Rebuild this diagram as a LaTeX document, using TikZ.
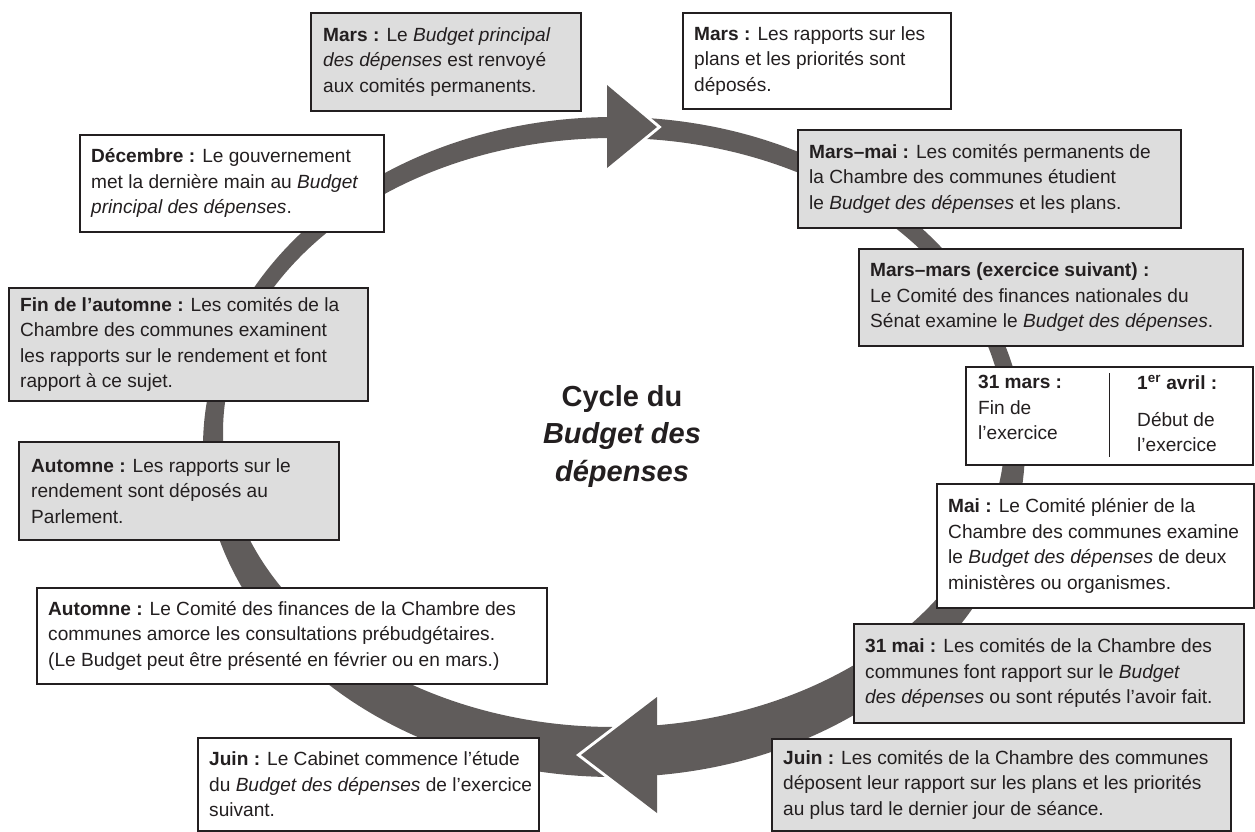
\documentclass[tikz,border=0pt]{standalone}
\usepackage{fontspec}
\setmainfont{Liberation Sans}
\definecolor{ringc}{RGB}{96,92,91}
\definecolor{boxg}{RGB}{221,221,221}
\definecolor{ink}{RGB}{35,31,32}
\begin{document}
\begin{tikzpicture}[x=1pt,y=-1pt,
  box/.style={draw=ink, line width=1.6pt, rectangle, inner sep=0pt, anchor=north west},
  gbox/.style={box, fill=boxg},
  wbox/.style={box, fill=white},
  txt/.style={anchor=west, align=left, inner sep=0pt, text=ink, font=\fontsize{19.1}{25.5}\selectfont},
  ttl/.style={align=center, inner sep=0pt, text=ink, font=\fontsize{29}{37.5}\selectfont\bfseries},
  gap/.style={white, line width=6pt},
]
\useasboundingbox (0,0) rectangle (1255,832);
% ring
\fill[ringc, even odd rule] (614,447) ellipse [x radius=411pt, y radius=330pt]
                            (614,432.5) ellipse [x radius=391pt, y radius=294.5pt];
% top arrowhead
\draw[gap] (607,85) -- (657,127) -- (607,168);
\fill[ringc] (607,85) -- (657,127) -- (607,168) -- cycle;
% bottom arrowhead
\draw[gap] (657,697) -- (581,755) -- (657,813);
\fill[ringc] (657,697) -- (581,755) -- (657,813) -- cycle;

% title
\node[ttl] (title) at (622,436) {Cycle du\\\textit{Budget des}\\\textit{dépenses}};

% boxes
\node[gbox, minimum width=270pt, minimum height=98pt] (b1) at (310,12) {};
\node[txt] (t1) at ([xshift=13pt]b1.west) {\textbf{Mars :} Le \textit{Budget principal}\\\textit{des dépenses} est renvoyé\\aux comités permanents.};

\node[wbox, minimum width=268pt, minimum height=96pt] (b2) at (682,12) {};
\node[txt] (t2) at ([xshift=12pt]b2.west) {\textbf{Mars :} Les rapports sur les\\plans et les priorités sont\\déposés.};

\node[wbox, minimum width=304pt, minimum height=97pt] (b3) at (79,134) {};
\node[txt] (t3) at ([xshift=12pt]b3.west) {\textbf{Décembre :} Le gouvernement\\met la dernière main au \textit{Budget}\\\textit{principal des dépenses}.};

\node[gbox, minimum width=383pt, minimum height=98pt] (b4) at (797,129) {};
\node[txt] (t4) at ([xshift=12pt]b4.west) {\textbf{Mars–mai :} Les comités permanents de\\la Chambre des communes étudient\\le \textit{Budget des dépenses} et les plans.};

\node[gbox, minimum width=384pt, minimum height=97pt] (b5) at (858,248) {};
\node[txt] (t5) at ([xshift=12pt]b5.west) {\textbf{Mars–mars (exercice suivant) :}\\Le Comité des finances nationales du\\Sénat examine le \textit{Budget des dépenses}.};

\node[wbox, minimum width=287pt, minimum height=98pt] (b6) at (965,366) {};
\node[txt, anchor=north west] (t6a) at (978,375) {\textbf{31 mars :}\\Fin de\\l’exercice};
\node[txt, anchor=north west] (t6b) at (1137,375) {\textbf{1\textsuperscript{er} avril :}\\[11pt]Début de\\l’exercice};
\draw[ink, line width=1pt] (1109,373) -- (1109,457);

\node[wbox, minimum width=317pt, minimum height=124pt] (b7) at (936,483) {};
\node[txt] (t7) at ([xshift=12pt]b7.west) {\textbf{Mai :} Le Comité plénier de la\\Chambre des communes examine\\le \textit{Budget des dépenses} de deux\\ministères ou organismes.};

\node[gbox, minimum width=390pt, minimum height=99pt] (b8) at (853,623) {};
\node[txt] (t8) at ([xshift=12pt]b8.west) {\textbf{31 mai :} Les comités de la Chambre des\\communes font rapport sur le \textit{Budget}\\\textit{des dépenses} ou sont réputés l’avoir fait.};

\node[gbox, minimum width=459pt, minimum height=92pt] (b9) at (771,738) {};
\node[txt] (t9) at ([xshift=12pt]b9.west) {\textbf{Juin :} Les comités de la Chambre des communes\\déposent leur rapport sur les plans et les priorités\\au plus tard le dernier jour de séance.};

\node[wbox, minimum width=341pt, minimum height=93pt] (b10) at (197,737) {};
\node[txt] (t10) at ([xshift=12pt]b10.west) {\textbf{Juin :} Le Cabinet commence l’étude\\du \textit{Budget des dépenses} de l’exercice\\suivant.};

\node[wbox, minimum width=510pt, minimum height=96pt] (b11) at (36,587) {};
\node[txt] (t11) at ([xshift=12pt]b11.west) {\textbf{Automne :} Le Comité des finances de la Chambre des\\communes amorce les consultations prébudgétaires.\\(Le Budget peut être présenté en février ou en mars.)};

\node[gbox, minimum width=320pt, minimum height=98pt] (b12) at (18,441) {};
\node[txt] (t12) at ([xshift=13pt]b12.west) {\textbf{Automne :} Les rapports sur le\\rendement sont déposés au\\Parlement.};

\node[gbox, minimum width=359pt, minimum height=113pt] (b13) at (8,287) {};
\node[txt] (t13) at ([xshift=12pt]b13.west) {\textbf{Fin de l’automne :} Les comités de la\\Chambre des communes examinent\\les rapports sur le rendement et font\\rapport à ce sujet.};
\end{tikzpicture}
\end{document}
